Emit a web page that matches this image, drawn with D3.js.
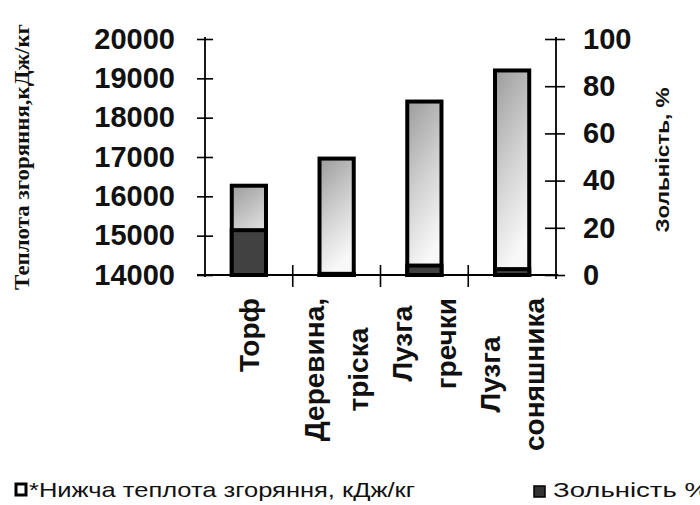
<!DOCTYPE html>
<html>
<head>
<meta charset="utf-8">
<script src="https://cdn.jsdelivr.net/npm/d3@7"></script>
<style>
  html, body { margin: 0; padding: 0; background: #fff; }
  svg { display: block; }
</style>
</head>
<body>
<svg id="chart" width="700" height="505"></svg>
<script>
// ---- data ----
const categories = ["Торф", "Деревина,\nтріска", "Лузга\nгречки", "Лузга\nсоняшника"];
const heatValues = [16270, 16960, 18410, 19200];   // кДж/кг (left axis)
const ashValues = [19, 0.5, 4, 2.5];                // % (right axis)
const leftTicks = [14000, 15000, 16000, 17000, 18000, 19000, 20000];
const rightTicks = [0, 20, 40, 60, 80, 100];
const leftTitle = "Теплота згоряння,кДж/кг";
const rightTitle = "Зольність, %";
const legendHeat = "*Нижча теплота згоряння, кДж/кг";
const legendAsh = "Зольність %";

const svg = d3.select("#chart");
const plot = { left: 205, right: 556, top: 39, bottom: 275 };

const x = d3.scaleBand().domain(categories).range([plot.left, plot.right]).padding(0);
const yL = d3.scaleLinear().domain([14000, 20000]).range([plot.bottom, plot.top]);
const yR = d3.scaleLinear().domain([0, 100]).range([plot.bottom, plot.top]);

// gradient
const defs = svg.append("defs");
const grad = defs.append("linearGradient").attr("id", "heatGrad")
  .attr("x1", 0).attr("y1", 0).attr("x2", 0.3).attr("y2", 1);
grad.append("stop").attr("offset", "0%").attr("stop-color", "#9c9c9c");
grad.append("stop").attr("offset", "55%").attr("stop-color", "#d2d2d2");
grad.append("stop").attr("offset", "100%").attr("stop-color", "#f8f8f8");

const barW = x.bandwidth() * 0.39;
const bars = svg.append("g");
categories.forEach((c, i) => {
  const cx = x(c) + x.bandwidth() / 2;
  bars.append("rect")
    .attr("x", cx - barW / 2).attr("width", barW)
    .attr("y", yL(heatValues[i])).attr("height", yL(14000) - yL(heatValues[i]))
    .attr("fill", "url(#heatGrad)").attr("stroke", "#000").attr("stroke-width", 4);
  bars.append("rect")
    .attr("x", cx - barW / 2).attr("width", barW)
    .attr("y", yR(ashValues[i])).attr("height", yR(0) - yR(ashValues[i]))
    .attr("fill", "#414141").attr("stroke", "#000").attr("stroke-width", 4);
});

// left axis
const gL = svg.append("g").attr("transform", `translate(${plot.left},0)`)
  .call(d3.axisLeft(yL).tickValues(leftTicks).tickFormat(d3.format("d")).tickSize(7).tickPadding(23));
gL.selectAll(".tick line").attr("x1", 8).attr("x2", -8).attr("stroke-width", 1.6);
gL.select(".domain").attr("d", `M0,${plot.top - 2}V${plot.bottom + 2}`).attr("stroke-width", 1.8);
gL.selectAll("text").attr("font-family", "Liberation Sans, Arial, sans-serif")
  .attr("font-size", 29).attr("font-weight", "bold").attr("fill", "#111");

// right axis
const gR = svg.append("g").attr("transform", `translate(${plot.right},0)`)
  .call(d3.axisRight(yR).tickValues(rightTicks).tickSize(9).tickPadding(18));
gR.selectAll(".tick line").attr("x1", -11).attr("x2", 9).attr("stroke-width", 1.6);
gR.select(".domain").attr("d", `M0,${plot.top - 2}V${plot.bottom + 4}`).attr("stroke-width", 1.8);
gR.selectAll("text").attr("font-family", "Liberation Sans, Arial, sans-serif")
  .attr("font-size", 29).attr("font-weight", "bold").attr("fill", "#111");

// bottom axis
const gB = svg.append("g").attr("transform", `translate(0,${plot.bottom})`);
gB.append("line").attr("x1", plot.left - 8).attr("x2", plot.right + 2)
  .attr("y1", 0).attr("y2", 0).attr("stroke", "#000").attr("stroke-width", 1.8);
categories.slice(1).forEach(c => {
  gB.append("line").attr("x1", x(c)).attr("x2", x(c)).attr("y1", -10).attr("y2", 12)
    .attr("stroke", "#000").attr("stroke-width", 1.6);
});

// category labels (rotated)
const labelTop = 298;
const lineGap = 44;
categories.forEach(c => {
  const lines = c.split("\n");
  const cx = x(c) + x.bandwidth() / 2;
  const g = svg.append("g");
  const texts = lines.map((l, j) => {
    const lx = cx + (j - (lines.length - 1) / 2) * lineGap;
    return g.append("text").text(l)
      .attr("font-family", "Liberation Sans, Arial, sans-serif")
      .attr("font-size", 28).attr("font-weight", "bold").attr("fill", "#111")
      .attr("text-anchor", "middle").attr("dy", "0.35em")
      .datum(lx);
  });
  const W = d3.max(texts, t => t.node().getComputedTextLength());
  const cy = labelTop + W / 2;
  texts.forEach(t => {
    const lx = t.datum();
    t.attr("transform", `translate(${lx},${cy}) rotate(-90)`);
  });
});

// axis titles
svg.append("text").text(leftTitle)
  .attr("transform", "translate(22,157) rotate(-90)")
  .attr("text-anchor", "middle").attr("dy", "0.35em")
  .attr("font-family", "Liberation Serif, Times New Roman, serif")
  .attr("font-size", 20).attr("font-weight", "bold").attr("fill", "#111")
  .attr("textLength", 266).attr("lengthAdjust", "spacingAndGlyphs");

svg.append("text").text(rightTitle)
  .attr("transform", "translate(662,160) rotate(-90)")
  .attr("text-anchor", "middle").attr("dy", "0.35em")
  .attr("font-family", "Liberation Sans, Arial, sans-serif")
  .attr("font-size", 19).attr("font-weight", "bold").attr("fill", "#111")
  .attr("textLength", 145).attr("lengthAdjust", "spacingAndGlyphs");

// legend
const leg = svg.append("g");
leg.append("rect").attr("x", 16).attr("y", 484).attr("width", 10).attr("height", 11)
  .attr("fill", "#fff").attr("stroke", "#000").attr("stroke-width", 3);
leg.append("text").text(legendHeat).attr("x", 29).attr("y", 497)
  .attr("font-family", "Liberation Sans, Arial, sans-serif").attr("font-size", 21).attr("fill", "#111")
  .attr("textLength", 386).attr("lengthAdjust", "spacingAndGlyphs");
leg.append("rect").attr("x", 534).attr("y", 486).attr("width", 11).attr("height", 11)
  .attr("fill", "#333").attr("stroke", "#000").attr("stroke-width", 1.5);
leg.append("text").text(legendAsh).attr("x", 553).attr("y", 497)
  .attr("font-family", "Liberation Sans, Arial, sans-serif").attr("font-size", 21).attr("fill", "#111")
  .attr("textLength", 156).attr("lengthAdjust", "spacingAndGlyphs");
</script>
</body>
</html>
